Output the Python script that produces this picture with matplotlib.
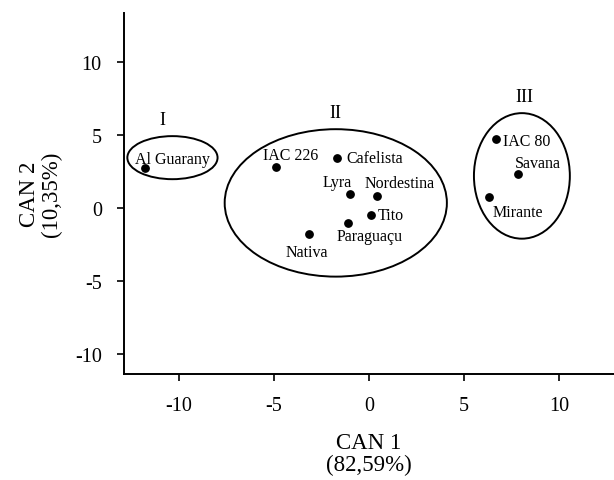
import matplotlib.pyplot as plt
from matplotlib.patches import Ellipse

plt.rcParams['font.family'] = ['Liberation Serif', 'DejaVu Serif']
plt.rcParams['axes.unicode_minus'] = False

# Data: canonical scores of each cultivar
cultivars = ["Al Guarany", "IAC 226", "Cafelista", "Lyra", "Nordestina", "Tito",
             "Paraguaçu", "Nativa", "IAC 80", "Savana", "Mirante"]
can1 = [-11.8, -4.9, -1.7, -1.0, 0.4, 0.1, -1.1, -3.15, 6.7, 7.85, 6.3]
can2 = [2.75, 2.8, 3.45, 0.95, 0.85, -0.5, -1.0, -1.75, 4.75, 2.35, 0.75]

# Groups (ellipses): center, width, height in canonical units
groups = ["I", "II", "III"]
group_x = [-10.35, -1.75, 8.05]
group_y = [3.45, 0.35, 2.2]
group_w = [4.75, 11.7, 5.05]
group_h = [2.95, 10.1, 8.6]

# label offsets in points (ha left, va center)
offsets = {
    "Al Guarany": (-7, 6.5), "IAC 226": (-9.5, 8.6), "Cafelista": (7, 0),
    "Lyra": (-19.5, 8.6), "Nordestina": (-8.6, 9.4), "Tito": (5, 0),
    "Paraguaçu": (-8.6, -9.4), "Nativa": (-17.3, -13), "IAC 80": (5, -1.4),
    "Savana": (-2.2, 8), "Mirante": (2.9, -10.8),
}
group_dx = [-7, 0, 1.5]

fig = plt.figure(figsize=(6.14, 4.81), dpi=100)
ax = fig.add_axes([0.202, 0.2204, 0.798, 0.7505])

ax.scatter(can1, can2, s=28, color='black', zorder=3)
for name, x, y in zip(cultivars, can1, can2):
    ax.annotate(name, xy=(x, y), xytext=offsets[name], textcoords='offset points',
                ha='left', va='center', fontsize=11.5)

for g, x, y, w, h, dx in zip(groups, group_x, group_y, group_w, group_h, group_dx):
    ax.add_patch(Ellipse((x, y), w, h, fill=False, edgecolor='black', lw=1.4))
    ax.annotate(g, xy=(x, y + h / 2), xytext=(dx, 12), textcoords='offset points',
                ha='center', va='center', fontsize=13)

ax.set_xlim(-12.9, 12.9)
ax.set_ylim(-11.37, 13.36)
ax.set_xticks([-10, -5, 0, 5, 10])
ax.set_yticks([-10, -5, 0, 5, 10])
ax.tick_params(direction='out', length=5, width=1.2, labelsize=14.5, pad=11)

for s in ['top', 'right']:
    ax.spines[s].set_visible(False)
for s in ['left', 'bottom']:
    ax.spines[s].set_linewidth(1.4)

ax.set_xlabel("CAN 1\n(82,59%)", fontsize=16.5, labelpad=12, linespacing=1.05)
ax.set_ylabel("CAN 2\n(10,35%)", fontsize=16.5, labelpad=9, linespacing=1.1)

fig.savefig("out.png", dpi=100)
